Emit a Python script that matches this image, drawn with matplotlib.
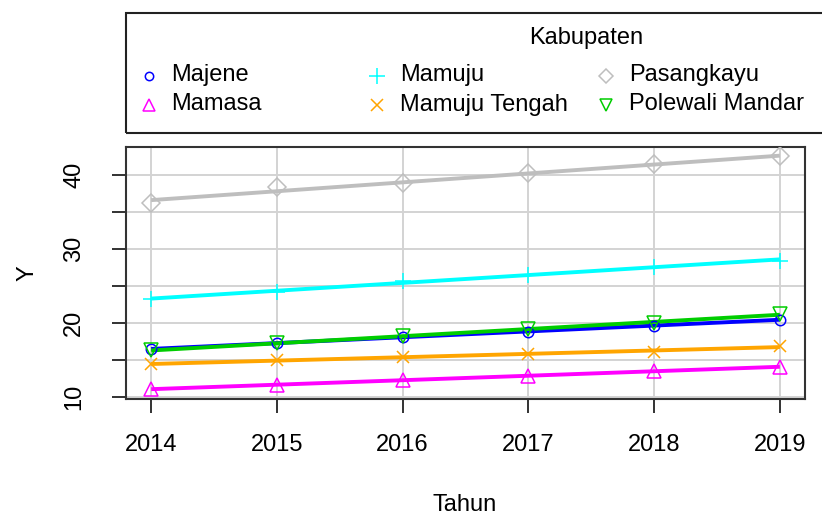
import numpy as np
import matplotlib
matplotlib.use("Agg")
import matplotlib.pyplot as plt
from matplotlib.lines import Line2D
from matplotlib.patches import Rectangle

plt.rcParams['font.family'] = ['Liberation Sans', 'DejaVu Sans']

tahun = [2014, 2015, 2016, 2017, 2018, 2019]
kabupaten = ['Majene', 'Mamasa', 'Mamuju', 'Mamuju Tengah', 'Pasangkayu', 'Polewali Mandar']
majene = [16.4, 17.3, 18.1, 18.8, 19.6, 20.4]
mamasa = [11.0, 11.6, 12.3, 12.8, 13.5, 14.0]
mamuju = [23.2, 24.2, 25.6, 26.5, 27.6, 28.4]
mamuju_tengah = [14.4, 14.9, 15.4, 15.8, 16.1, 16.8]
pasangkayu = [36.2, 38.3, 38.9, 40.2, 41.4, 42.5]
polewali = [16.3, 17.2, 18.2, 19.1, 20.0, 21.2]
series = [majene, mamasa, mamuju, mamuju_tengah, pasangkayu, polewali]

warna = ['#0000FF', '#FF00FF', '#00FFFF', '#FFA500', '#BEBEBE', '#00CD00']
penanda = ['o', '^', '+', 'x', 'D', 'v']
ukuran = [7.5, 10, 12, 9, 9, 10]

W, H = 822, 518
fig = plt.figure(figsize=(W / 100, H / 100), dpi=100)

def fx(px):
    return px / W

def fy(py):
    return 1 - py / H

ax = fig.add_axes([fx(126), fy(399.3), fx(805) - fx(126), fy(146.7) - fy(399.3)])

x = np.array(tahun)
for vals, c, m, s in zip(series, warna, penanda, ukuran):
    y = np.array(vals)
    b, a = np.polyfit(x, y, 1)
    ax.plot(x, a + b * x, color=c, lw=2.8, solid_capstyle='butt', zorder=3)
    ax.plot(x, y, ls='none', marker=m, ms=s, mfc='none', mec=c, mew=1.1, zorder=4)

ax.set_xlim(2013.8, 2019.2)
ax.set_ylim(9.65, 43.8)
ax.set_xticks(tahun)
ax.set_yticks([10, 15, 20, 25, 30, 35, 40])
ax.set_yticklabels(['10', '', '20', '', '30', '', '40'], rotation=90, va='center')
ax.grid(True, color='#D3D3D3', lw=1.4, zorder=0)
ax.set_axisbelow(True)
ax.tick_params(axis='both', length=10, width=1.3, color='#222222', labelsize=17)
ax.tick_params(axis='x', pad=15)
ax.tick_params(axis='y', pad=19.5)
for sp in ax.spines.values():
    sp.set_linewidth(1.5)
    sp.set_color('#333333')

fig.text(fx(465), fy(505), 'Tahun', fontsize=17, ha='center', va='center')
fig.text(fx(27), fy(273), 'Y', fontsize=17, ha='center', va='center', rotation=90)

# legend box, drawn by hand (right edge runs past the figure like the original)
fig.add_artist(Rectangle((fx(126), fy(133.3)), fx(1050) - fx(126), fy(12.7) - fy(133.3),
                         transform=fig.transFigure, fill=False, ec='#222222', lw=1.5))
fig.text(fx(586), fy(38), 'Kabupaten', fontsize=17, ha='center', va='center')
kolom_m = [149, 149, 377, 377, 606, 606]
kolom_t = [171, 171, 400, 400, 629, 629]
baris = [75.5, 104.5, 75.5, 104.5, 75.5, 104.5]
ukuran_leg = [6, 9, 11, 8, 7.5, 9]
for nama, c, m, s, xm, xt, yb in zip(kabupaten, warna, penanda, ukuran_leg, kolom_m, kolom_t, baris):
    fig.add_artist(Line2D([fx(xm)], [fy(yb)], transform=fig.transFigure, ls='none',
                          marker=m, ms=s, mfc='none', mec=c, mew=1.1))
    fig.text(fx(xt), fy(yb), nama, fontsize=17, ha='left', va='center')

fig.savefig('out.png', dpi=100)
